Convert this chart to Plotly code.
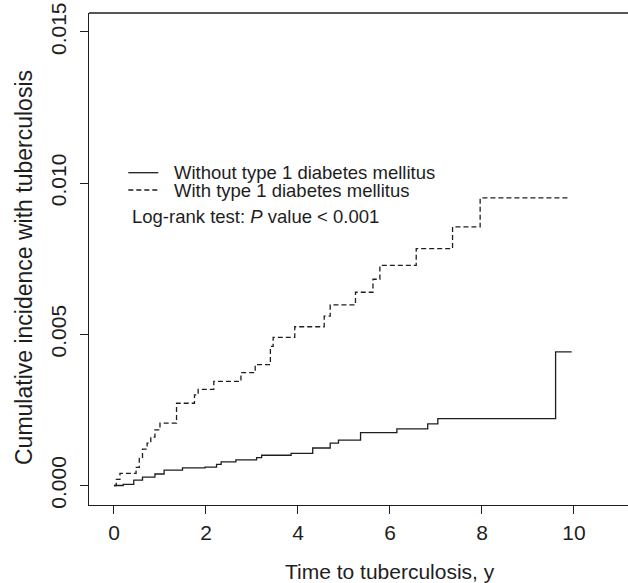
import plotly.graph_objects as go

# ---- data ----
t1dm_time = [0, 0.05, 0.13, 0.48, 0.55, 0.62, 0.72, 0.80, 0.89, 1.00, 1.36, 1.75, 1.83,
             2.17, 2.76, 3.07, 3.40, 3.46, 3.93, 4.57, 4.70, 5.25, 5.63, 5.78, 6.57,
             7.36, 7.96, 9.89]
t1dm_cuminc = [0, 0.0002, 0.0004, 0.0006, 0.0009, 0.0012, 0.0014, 0.0016, 0.00184, 0.00206,
               0.00272, 0.00300, 0.00318, 0.00344, 0.00373, 0.00400, 0.00460, 0.00490,
               0.00525, 0.00560, 0.00597, 0.00639, 0.00682, 0.00728, 0.00783, 0.00855,
               0.00951, 0.00951]

non_time = [0, 0.20, 0.43, 0.62, 0.89, 1.09, 1.49, 1.98, 2.23, 2.33, 2.65, 3.10, 3.21,
            3.85, 4.32, 4.70, 4.88, 5.36, 6.15, 6.82, 7.04, 9.60, 9.95]
non_cuminc = [0, 0.00004, 0.00018, 0.00028, 0.00038, 0.00051, 0.00058, 0.00061, 0.00070,
              0.00078, 0.00085, 0.00092, 0.00100, 0.00106, 0.00124, 0.00140, 0.00150,
              0.00175, 0.00187, 0.00204, 0.00221, 0.00442, 0.00442]

x_ticks = [0, 2, 4, 6, 8, 10]
y_ticks = [0.000, 0.005, 0.010, 0.015]
y_tick_labels = ["0.000", "0.005", "0.010", "0.015"]

legend_labels = ["Without type 1 diabetes mellitus", "With type 1 diabetes mellitus"]
stat_text = "Log-rank test: <i>P</i> value < 0.001"
x_title = "Time to tuberculosis, y"
y_title = "Cumulative incidence with tuberculosis"

INK = "#1e1e1e"
FONT = "Liberation Sans, Arial, Helvetica, sans-serif"
W, H = 628, 583
ML, MR, MT, MB = 89, 0, 13, 78
PW, PH = W - ML - MR, H - MT - MB


def px(xp):
    return (xp - ML) / PW


def py(yp):
    return (H - MB - yp) / PH


fig = go.Figure()
fig.add_trace(go.Scatter(x=non_time, y=non_cuminc, mode="lines", line_shape="hv",
                         line=dict(color=INK, width=1.3), name=legend_labels[0],
                         showlegend=False, hoverinfo="skip"))
fig.add_trace(go.Scatter(x=t1dm_time, y=t1dm_cuminc, mode="lines", line_shape="hv",
                         line=dict(color=INK, width=1.3, dash="5px,3px"),
                         name=legend_labels[1], showlegend=False, hoverinfo="skip"))

# legend drawn manually (R-style compact legend)
leg_rows = [172.7, 190.0]
dashes = ["solid", "5px,3px"]
for row, lab, d in zip(leg_rows, legend_labels, dashes):
    fig.add_shape(type="line", xref="paper", yref="paper",
                  x0=px(128.3), x1=px(158.3), y0=py(row), y1=py(row),
                  line=dict(color=INK, width=1.3, dash=d))
    fig.add_annotation(xref="paper", yref="paper", x=px(171.5), y=py(row),
                       xanchor="left", yanchor="middle", text=lab, showarrow=False,
                       font=dict(size=18.5, color=INK, family=FONT))
fig.add_annotation(xref="paper", yref="paper", x=px(129.5), y=py(216.7),
                   xanchor="left", yanchor="middle", text=stat_text, showarrow=False,
                   font=dict(size=18.5, color=INK, family=FONT))

# axis titles
fig.add_annotation(xref="paper", yref="paper", x=px(390), y=py(571),
                   xanchor="center", yanchor="middle", text=x_title, showarrow=False,
                   font=dict(size=21, color=INK, family=FONT))
fig.add_annotation(xref="paper", yref="paper", x=px(24), y=py(268),
                   xanchor="center", yanchor="middle", text=y_title, showarrow=False,
                   textangle=-90, font=dict(size=23, color=INK, family=FONT))

# top border of the box (right side is cropped in the reference)
fig.add_shape(type="line", xref="paper", yref="paper", x0=0, x1=1, y0=1, y1=1,
              line=dict(color=INK, width=1.3))

fig.update_layout(
    width=W, height=H,
    margin=dict(l=ML, r=MR, t=MT, b=MB, autoexpand=False),
    paper_bgcolor="white", plot_bgcolor="white",
    font=dict(family=FONT, color=INK, size=21),
    showlegend=False, hovermode=False,
)
fig.update_xaxes(range=[-0.543, 11.174], tickvals=x_ticks, ticktext=[str(v) for v in x_ticks],
                 showgrid=False, zeroline=False, showline=True, linecolor=INK, linewidth=1.3,
                 ticks="outside", ticklen=8, tickwidth=1.3, tickcolor=INK,
                 tickfont=dict(size=21, color=INK, family=FONT), ticklabelstandoff=1)
fig.update_yaxes(range=[-0.000645, 0.015625], tickvals=y_ticks, ticktext=y_tick_labels,
                 showgrid=False, zeroline=False, showline=True, linecolor=INK, linewidth=1.3,
                 ticks="outside", ticklen=8, tickwidth=1.3, tickcolor=INK, tickangle=-90,
                 tickfont=dict(size=21, color=INK, family=FONT), ticklabelstandoff=5)

fig.write_html("out.html", config={"displayModeBar": False},
               post_script="document.body.style.margin='0';document.body.style.padding='0';")
